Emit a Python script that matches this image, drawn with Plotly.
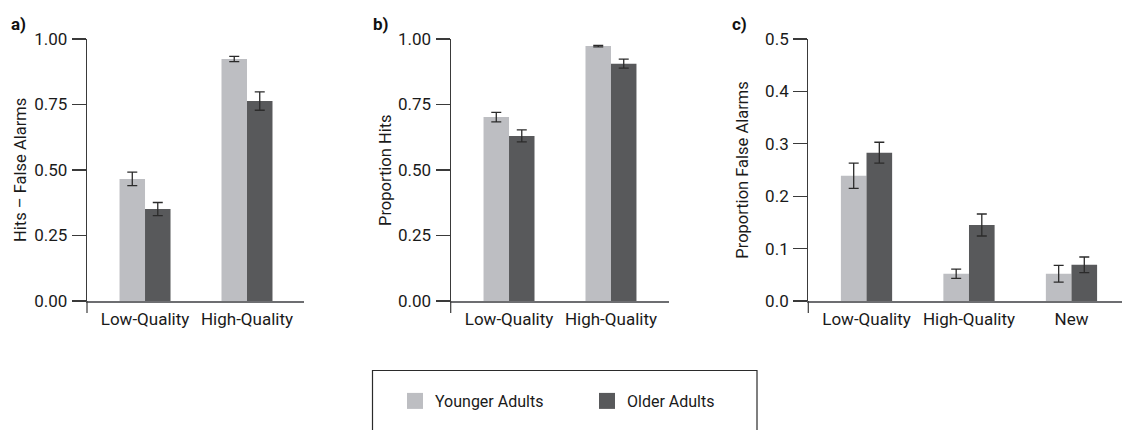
import plotly.graph_objects as go

# ---- data ----
cats_ab = ["Low-Quality", "High-Quality"]
cats_c = ["Low-Quality", "High-Quality", "New"]

a_young = [0.466, 0.924]
a_young_err = [0.026, 0.010]
a_old = [0.351, 0.763]
a_old_err = [0.025, 0.035]

b_young = [0.702, 0.973]
b_young_err = [0.018, 0.003]
b_old = [0.630, 0.906]
b_old_err = [0.023, 0.017]

c_young = [0.239, 0.052, 0.052]
c_young_err = [0.024, 0.009, 0.016]
c_old = [0.283, 0.145, 0.069]
c_old_err = [0.020, 0.021, 0.015]

series_names = ["Younger Adults", "Older Adults"]
y_titles = ["Hits \u2013 False Alarms", "Proportion Hits", "Proportion False Alarms"]
panel_labels = ["a)", "b)", "c)"]

# ---- style ----
W, H = 1122, 430
FONT = "Roboto, Liberation Sans, Arial, sans-serif"
TXT = "#1a1a1a"
C_YOUNG = "#bdbec2"
C_OLD = "#58595b"
C_ERR = "#2b2b2b"
C_AXIS = "#3a3a3a"
C_BASE = "#6d6e71"

def px(x):
    return x / W

def py(y):
    return (H - y) / H

fig = go.Figure()

panels = [
    (cats_ab, a_young, a_young_err, a_old, a_old_err, "x", "y"),
    (cats_ab, b_young, b_young_err, b_old, b_old_err, "x2", "y2"),
    (cats_c, c_young, c_young_err, c_old, c_old_err, "x3", "y3"),
]

for cats, yv, ye, ov, oe, xa, ya in panels:
    fig.add_trace(go.Bar(
        x=cats, y=yv, name=series_names[0], marker_color=C_YOUNG,
        marker_line_width=0, showlegend=False,
        error_y=dict(type="data", array=ye, color=C_ERR, thickness=1.3, width=5),
        xaxis=xa, yaxis=ya, offsetgroup="young"))
    fig.add_trace(go.Bar(
        x=cats, y=ov, name=series_names[1], marker_color=C_OLD,
        marker_line_width=0, showlegend=False,
        error_y=dict(type="data", array=oe, color=C_ERR, thickness=1.3, width=5),
        xaxis=xa, yaxis=ya, offsetgroup="old"))

# legend entries
for name, col in zip(series_names, [C_YOUNG, C_OLD]):
    fig.add_trace(go.Scatter(
        x=[None], y=[None], mode="markers", name=name,
        marker=dict(symbol="square", size=20, color=col, line_width=0),
        xaxis="x", yaxis="y", showlegend=True))

# axis geometry (pixel positions from reference)
y_top, y_bot = 39, 301
x_specs = [
    (87, 304, [-0.569, 1.559]),
    (450.7, 669, [-0.572, 1.569]),
    (808.3, 1122, [-0.568, 2.493]),
]
y_specs = [
    ([0, 1], [0, 0.25, 0.5, 0.75, 1.0], ".2f"),
    ([0, 1], [0, 0.25, 0.5, 0.75, 1.0], ".2f"),
    ([0, 0.5], [0, 0.1, 0.2, 0.3, 0.4, 0.5], ".1f"),
]

layout = dict(
    template="none",
    width=W, height=H,
    margin=dict(l=0, r=0, t=0, b=0, autoexpand=False),
    paper_bgcolor="white", plot_bgcolor="white",
    barmode="group", bargap=0.5, bargroupgap=0,
    font=dict(family=FONT, size=17, color=TXT),
    showlegend=True,
    legend=dict(
        orientation="h", x=px(395), y=py(401), xanchor="left", yanchor="middle",
        entrywidth=147, entrywidthmode="pixels",
        font=dict(family=FONT, size=16, color=TXT),
        bgcolor="rgba(0,0,0,0)", borderwidth=0,
    ),
)

for i, ((xl, xr, xrng), (yrng, tv, tf)) in enumerate(zip(x_specs, y_specs)):
    sfx = "" if i == 0 else str(i + 1)
    layout["xaxis" + sfx] = dict(
        domain=[px(xl), px(xr)], range=xrng, anchor="y" + sfx,
        type="category", showline=True, linecolor=C_BASE, linewidth=1.5,
        ticks="", showgrid=False, zeroline=False, fixedrange=True,
        automargin=False, tickangle=0,
        tickfont=dict(family=FONT, size=17, color=TXT),
        ticklabelstandoff=2,
    )
    layout["yaxis" + sfx] = dict(
        domain=[py(y_bot), py(y_top)], range=yrng, anchor="x" + sfx,
        showline=True, linecolor=C_AXIS, linewidth=1.2,
        ticks="outside", ticklen=14, tickwidth=1.2, tickcolor=C_AXIS,
        tickvals=tv, tickformat=tf, showgrid=False, zeroline=False,
        automargin=False, fixedrange=True,
        tickfont=dict(family=FONT, size=17, color=TXT),
        ticklabelstandoff=1,
    )

fig.update_layout(**layout)

shapes = []
annotations = []
title_x = [20, 385, 741.7]
label_x = [18, 381, 739]
for i in range(3):
    sfx = "" if i == 0 else str(i + 1)
    # y-axis extension below baseline
    shapes.append(dict(type="line", xref="x" + sfx + " domain", yref="paper",
                       x0=0, x1=0, y0=py(y_bot), y1=py(313),
                       line=dict(color=C_AXIS, width=1.2)))
    annotations.append(dict(text=y_titles[i], xref="paper", yref="paper",
                            x=px(title_x[i]), y=py((y_top + y_bot) / 2),
                            textangle=-90, showarrow=False,
                            xanchor="center", yanchor="middle",
                            font=dict(family=FONT, size=16.5, color=TXT)))
    annotations.append(dict(text="<b>" + panel_labels[i] + "</b>", xref="paper", yref="paper",
                            x=px(label_x[i]), y=py(24), showarrow=False,
                            xanchor="center", yanchor="middle",
                            font=dict(family=FONT, size=17, color="#111111")))

# open-bottom legend frame
x0, x1, yt, yb = px(372.5), px(757), py(370.5), py(440)
shapes.append(dict(type="path", xref="paper", yref="paper",
                   path=f"M {x0} {yb} L {x0} {yt} L {x1} {yt} L {x1} {yb}",
                   line=dict(color="#2b2b2b", width=1.2)))

fig.update_layout(shapes=shapes, annotations=annotations)

fig.write_html(
    "out.html",
    config={"displayModeBar": False, "staticPlot": True},
    post_script="document.body.style.margin='0px';document.body.style.overflow='hidden';",
)
